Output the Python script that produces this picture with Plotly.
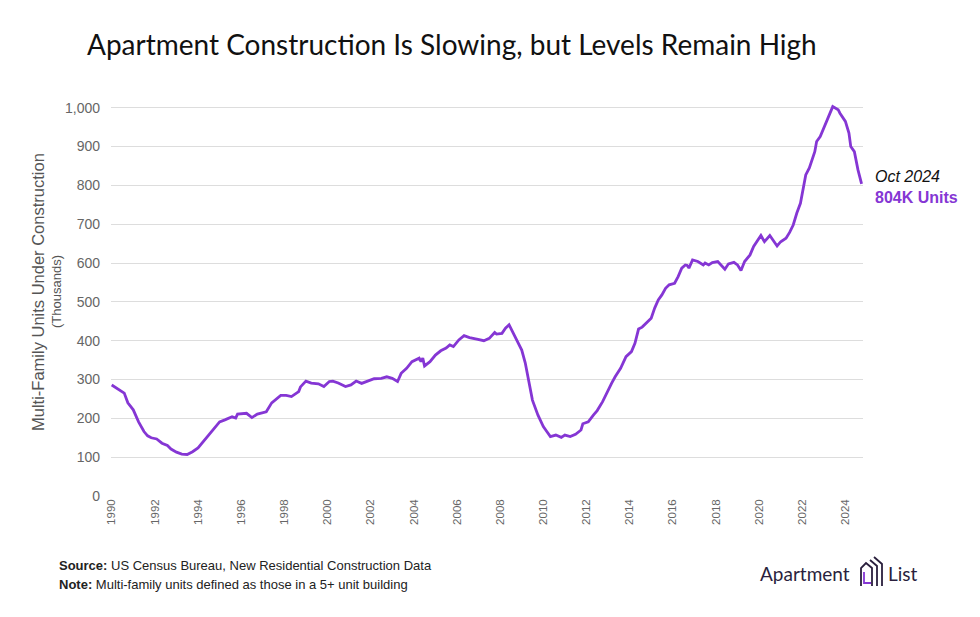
import plotly.graph_objects as go

# ---- data ----
months = [
    "1990-01", "1990-05", "1990-08", "1990-10", "1991-01", "1991-04", "1991-07", "1991-09", "1991-11",
    "1992-02", "1992-05", "1992-08", "1992-10", "1993-01", "1993-04", "1993-07", "1993-10",
    "1994-01", "1994-04", "1994-07", "1994-10", "1995-01", "1995-04", "1995-08", "1995-10", "1995-11",
    "1996-04", "1996-07", "1996-10", "1997-03", "1997-06", "1997-11", "1998-02", "1998-05", "1998-09",
    "1998-10", "1999-01", "1999-04", "1999-08", "1999-11", "2000-02", "2000-04", "2000-07", "2000-11",
    "2001-02", "2001-05", "2001-08", "2001-11", "2002-03", "2002-07", "2002-10", "2003-01", "2003-04",
    "2003-06", "2003-09", "2003-12", "2004-04", "2004-05", "2004-06", "2004-07", "2004-10", "2005-01",
    "2005-04", "2005-07", "2005-09", "2005-11", "2006-02", "2006-05", "2006-08", "2006-12", "2007-04",
    "2007-07", "2007-10", "2007-11", "2008-02", "2008-04", "2008-06", "2008-07", "2008-10", "2009-01",
    "2009-03", "2009-05", "2009-07", "2009-10", "2010-01", "2010-03", "2010-05", "2010-08", "2010-11",
    "2011-01", "2011-04", "2011-07", "2011-10", "2011-11", "2012-02", "2012-05", "2012-07", "2012-10",
    "2013-01", "2013-03", "2013-05", "2013-08", "2013-11", "2014-02", "2014-04", "2014-06", "2014-08",
    "2014-11", "2015-01", "2015-03", "2015-05", "2015-07", "2015-09", "2015-11", "2016-02", "2016-04",
    "2016-06", "2016-08", "2016-09", "2016-10", "2016-12", "2017-03", "2017-06", "2017-07", "2017-09",
    "2017-11", "2018-02", "2018-06", "2018-08", "2018-11", "2019-01", "2019-03", "2019-05", "2019-08",
    "2019-10", "2020-02", "2020-04", "2020-07", "2020-10", "2020-11", "2021-01", "2021-04", "2021-06",
    "2021-08", "2021-10", "2021-12", "2022-03", "2022-05", "2022-08", "2022-09", "2022-11", "2023-02",
    "2023-05", "2023-06", "2023-09", "2023-10", "2024-01", "2024-03", "2024-04", "2024-06", "2024-08",
    "2024-10",
]
units_thousands = [
    286, 273, 265, 240, 222, 191, 166, 155, 150,
    147, 136, 130, 121, 113, 108, 107, 114,
    124, 140, 157, 175, 191, 196, 204, 201, 211,
    213, 202, 211, 217, 240, 259, 259, 256, 269,
    281, 296, 291, 289, 282, 295, 296, 291, 282,
    286, 296, 290, 295, 302, 303, 307, 303, 295,
    316, 329, 346, 355, 346, 355, 335, 346, 363,
    374, 381, 389, 385, 402, 413, 408, 404, 400,
    406, 421, 417, 419, 432, 441, 432, 406, 376,
    343, 299, 247, 209, 179, 166, 153, 157, 151,
    157, 153, 159, 170, 186, 191, 209, 220, 243,
    273, 290, 307, 329, 359, 372, 393, 430, 435,
    449, 458, 484, 505, 518, 535, 544, 548, 565,
    587, 595, 594, 587, 608, 604, 595, 600, 595,
    601, 604, 584, 598, 602, 595, 581, 604, 621,
    643, 671, 655, 671, 649, 644, 655, 664, 679,
    698, 729, 754, 827, 845, 887, 913, 926, 960,
    995, 1003, 995, 986, 965, 935, 900, 887, 840,
    804,
]
year_ticks = [str(y) for y in range(1990, 2025, 2)]
y_ticks = [0, 100, 200, 300, 400, 500, 600, 700, 800, 900, 1000]

title_text = "Apartment Construction Is Slowing, but Levels Remain High"
y_title = "Multi-Family Units Under Construction"
y_subtitle = "(Thousands)"
last_label_1 = "Oct 2024"
last_label_2 = "804K Units"
source_note = "<b>Source:</b> US Census Bureau, New Residential Construction Data"
def_note = "<b>Note:</b> Multi-family units defined as those in a 5+ unit building"

PURPLE = "#8536D4"
OFF = 8  # page body margin offset
W, H = 980 - OFF, 617 - OFF
L, R, T, B = 111 - OFF, 117, 100 - OFF, 121
PW, PH = W - L - R, H - T - B


def px(x):
    return (x - OFF - L) / PW


def py(y):
    return (H - B - (y - OFF)) / PH


fig = go.Figure()
fig.add_trace(go.Scatter(
    x=[m + "-01" for m in months], y=units_thousands, mode="lines",
    line=dict(color=PURPLE, width=2.8), hoverinfo="x+y", showlegend=False,
))

fig.update_layout(
    width=W, height=H,
    margin=dict(l=L, r=R, t=T, b=B),
    paper_bgcolor="white", plot_bgcolor="white",
    title=dict(text=title_text, x=(87 - OFF) / W, xanchor="left", xref="container",
               y=1 - (45 - OFF) / H, yanchor="middle", yref="container",
               font=dict(family="Lato", size=28, color="#111111")),
    xaxis=dict(
        type="date", range=["1989-12-20", "2024-10-25"],
        tickvals=[y + "-01-01" for y in year_ticks], ticktext=year_ticks,
        tickangle=-90, tickfont=dict(family="Liberation Sans, Arial", size=11.5, color="#666666"),
        showgrid=False, zeroline=False, showline=False, ticks="",
    ),
    yaxis=dict(
        range=[0, 1020], tickvals=y_ticks, tickformat=",d",
        tickfont=dict(family="Liberation Sans, Arial", size=14, color="#666666"),
        showgrid=True, gridcolor="#DDDDDD", gridwidth=1, zeroline=False,
        showline=False, ticks="", ticklabelstandoff=10,
    ),
    font=dict(family="Liberation Sans, Arial"),
)

ann = [
    dict(text=y_title, x=px(38), y=py(292), textangle=-90, xanchor="center",
         font=dict(size=16.5, color="#555555")),
    dict(text=y_subtitle, x=px(56), y=py(292), textangle=-90, xanchor="center",
         font=dict(size=13, color="#555555")),
    dict(text="<i>" + last_label_1 + "</i>", x=px(873), y=py(176), xanchor="left",
         font=dict(size=16, color="#111111")),
    dict(text="<b>" + last_label_2 + "</b>", x=px(873), y=py(197), xanchor="left",
         font=dict(size=16, color=PURPLE)),
    dict(text=source_note, x=px(57), y=py(565), xanchor="left",
         font=dict(size=13, color="#222222")),
    dict(text=def_note, x=px(57), y=py(584), xanchor="left",
         font=dict(size=13, color="#222222")),
    dict(text="Apartment", x=px(852), y=py(573), xanchor="right",
         font=dict(family="Lato", size=19, color="#2A1F3D")),
    dict(text="List", x=px(886), y=py(573), xanchor="left",
         font=dict(family="Lato", size=19, color="#2A1F3D")),
]
for a in ann:
    a.update(xref="paper", yref="paper", showarrow=False)
    if "yanchor" not in a:
        a["yanchor"] = "middle"
    fig.add_annotation(**a)


# logo icon (stylised house outlines)
def path(points):
    return "M " + " L ".join(f"{px(x):.5f},{py(y):.5f}" for x, y in points)


icon_shapes = [
    ([(861, 586), (861, 568), (866, 563), (872, 568), (872, 586)], "#2A1F3D"),
    ([(864, 572), (864, 583), (871, 583)], "#8536D4"),
    ([(870, 560), (877, 566), (877, 586)], "#2A1F3D"),
    ([(874, 557), (882, 564), (882, 586)], "#2A1F3D"),
]
for pts, col in icon_shapes:
    fig.add_shape(type="path", path=path(pts), xref="paper", yref="paper",
                  line=dict(color=col, width=1.8))

fig.write_html("out.html")
